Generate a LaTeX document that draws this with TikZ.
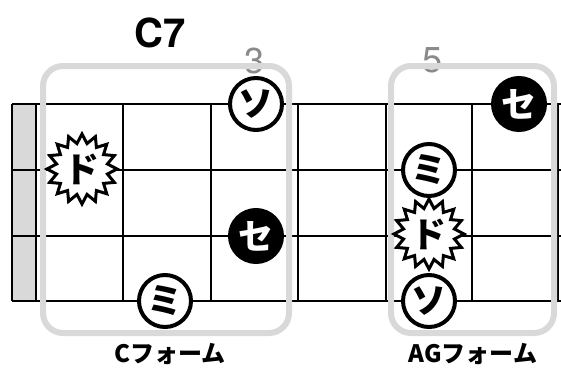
\documentclass[tikz,border=0pt]{standalone}
\usepackage{fontspec}
\setmainfont{TeX Gyre Heros}
\newfontfamily\jp{Noto Sans CJK JP}
\usetikzlibrary{shapes.geometric}
\definecolor{boxgray}{HTML}{D9D9D9}
\definecolor{numgray}{HTML}{8A8A8A}
\tikzset{
  gridline/.style={line width=2pt, black},
  formbox/.style={draw=boxgray, line width=6pt, rounded corners=20pt},
  dottext/.style={font=\jp\bfseries\fontsize{35}{35}\selectfont},
  opendot/.style={circle, draw=black, line width=4pt, fill=white, minimum size=52pt, inner sep=0pt, dottext},
  filldot/.style={circle, draw=black, line width=4pt, fill=black, text=white, minimum size=52pt, inner sep=0pt, dottext},
  rootdot/.style={star, star points=16, star point ratio=1.35, draw=black, line width=3pt, fill=white, minimum size=70pt, inner sep=0pt, dottext},
  fretnum/.style={text=numgray, font=\fontsize{36}{36}\selectfont, inner sep=0pt},
  formlabel/.style={font=\jp\bfseries\fontsize{24}{24}\selectfont, inner sep=0pt, anchor=base},
}
\begin{document}
\begin{tikzpicture}[x=1pt,y=-1pt]
\useasboundingbox (0,0) rectangle (561,367);
% nut area
\fill[boxgray] (12,104) rectangle (36,301);
% strings
\foreach \y in {104,170,236,301} \draw[gridline] (12,\y) -- (561,\y);
% frets
\foreach \x in {12,36,123,211,298,386,472,558} \draw[gridline] (\x,104) -- (\x,301);
% title
\node[font=\bfseries\fontsize{40}{40}\selectfont, inner sep=0pt] (title) at (160,33) {C7};
% fret numbers
\node[fretnum] (n3) at (255,61) {3};
\node[fretnum] (n5) at (432,60) {5};
% form boxes
\draw[formbox] (43,66) rectangle (289,333);
\draw[formbox] (391,66) rectangle (554,333);
% C form dots
\node[opendot] (so1) at (256,104) {ソ};
\node[rootdot] (do1) at (82,169) {ド};
\node[filldot] (se1) at (256,236) {セ};
\node[opendot] (mi1) at (165,301) {ミ};
% AG form dots
\node[filldot] (se2) at (519,104) {セ};
\node[opendot] (mi2) at (429,170) {ミ};
\node[rootdot] (do2) at (429,234) {ド};
\node[opendot] (so2) at (429,301) {ソ};
% labels
\node[formlabel] (lab1) at (170,362) {Cフォーム};
\node[formlabel] (lab2) at (473,362) {AGフォーム};
\end{tikzpicture}
\end{document}
